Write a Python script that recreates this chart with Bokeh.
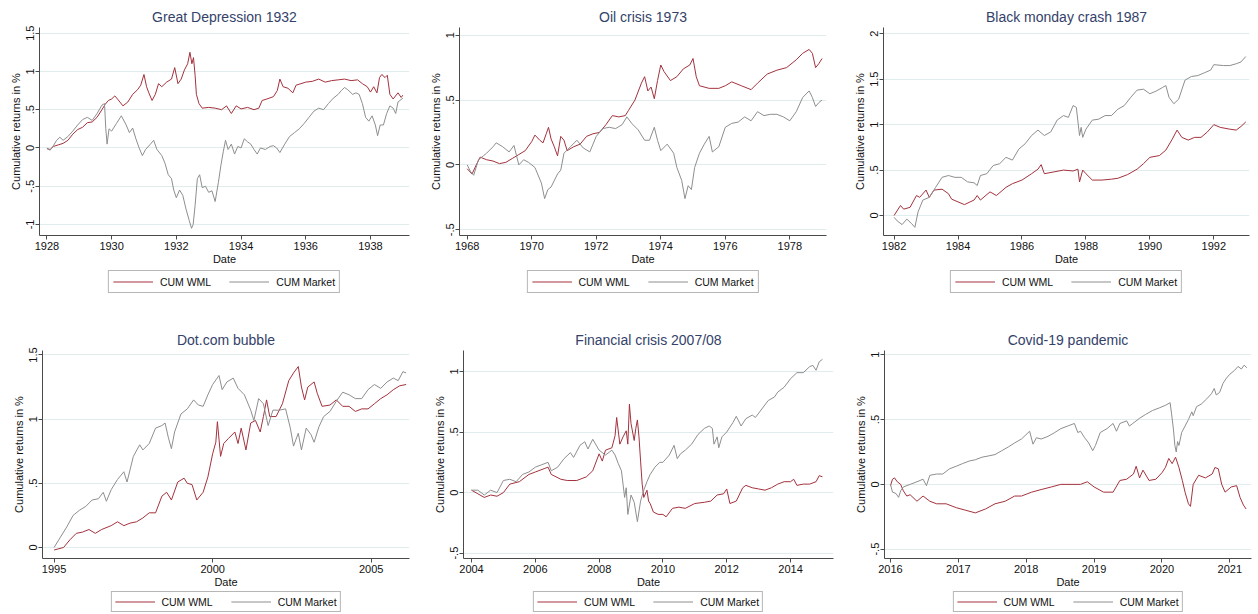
from bokeh.plotting import figure
from bokeh.layouts import column, row
from bokeh.models import Legend, LegendItem, FixedTicker, Range1d
from bokeh.embed import file_html
from bokeh.resources import INLINE

# ---------------------------------------------------------------------------
# Cumulative returns of the momentum factor (WML) and the market, per episode
# ---------------------------------------------------------------------------

# Great Depression 1932
gd_wml_date = [1928.00, 1928.10, 1928.20, 1928.35, 1928.50, 1928.65, 1928.80, 1928.95, 1929.10, 1929.25,
               1929.40, 1929.55, 1929.70, 1929.80, 1929.90, 1930.00, 1930.10, 1930.20, 1930.35, 1930.50,
               1930.65, 1930.80, 1930.90, 1931.00, 1931.08, 1931.15, 1931.25, 1931.35, 1931.45, 1931.55,
               1931.70, 1931.85, 1931.95, 1932.05, 1932.15, 1932.25, 1932.35, 1932.42, 1932.48, 1932.53,
               1932.58, 1932.62, 1932.70, 1932.80, 1933.00, 1933.20, 1933.40, 1933.55, 1933.70, 1933.85,
               1934.00, 1934.20, 1934.40, 1934.55, 1934.65, 1934.80, 1935.00, 1935.12, 1935.20, 1935.30,
               1935.45, 1935.60, 1935.70, 1935.85, 1936.00, 1936.20, 1936.40, 1936.60, 1936.80, 1937.00,
               1937.20, 1937.40, 1937.60, 1937.75, 1937.90, 1938.00, 1938.10, 1938.20, 1938.28, 1938.35,
               1938.45, 1938.52, 1938.60, 1938.70, 1938.85, 1938.95, 1939.00]
gd_wml = [-0.01, -0.02, 0.02, 0.04, 0.06, 0.10, 0.18, 0.24, 0.27, 0.33,
          0.34, 0.40, 0.50, 0.57, 0.62, 0.64, 0.68, 0.63, 0.55, 0.60,
          0.70, 0.76, 0.82, 0.96, 0.80, 0.72, 0.62, 0.70, 0.84, 0.80,
          0.86, 0.90, 1.05, 0.84, 0.90, 1.02, 1.10, 1.25, 1.10, 1.18,
          0.95, 0.70, 0.58, 0.52, 0.53, 0.52, 0.50, 0.55, 0.45, 0.55,
          0.51, 0.53, 0.50, 0.52, 0.62, 0.64, 0.67, 0.75, 0.90, 0.80,
          0.78, 0.72, 0.82, 0.84, 0.86, 0.87, 0.90, 0.86, 0.88, 0.89,
          0.90, 0.88, 0.89, 0.84, 0.80, 0.73, 0.80, 0.72, 0.92, 0.96,
          0.92, 0.95, 0.70, 0.64, 0.72, 0.66, 0.69]
gd_mkt_date = [1928.00, 1928.10, 1928.20, 1928.30, 1928.40, 1928.50, 1928.65, 1928.80, 1928.95, 1929.10,
               1929.25, 1929.40, 1929.55, 1929.70, 1929.78, 1929.82, 1929.86, 1929.92, 1930.00, 1930.15,
               1930.30, 1930.45, 1930.55, 1930.65, 1930.75, 1930.85, 1930.95, 1931.05, 1931.20, 1931.30,
               1931.40, 1931.55, 1931.65, 1931.75, 1931.85, 1931.92, 1932.00, 1932.10, 1932.20, 1932.30,
               1932.40, 1932.47, 1932.52, 1932.58, 1932.65, 1932.72, 1932.80, 1932.90, 1933.00, 1933.10,
               1933.20, 1933.30, 1933.38, 1933.45, 1933.52, 1933.60, 1933.70, 1933.80, 1933.90, 1934.00,
               1934.10, 1934.20, 1934.30, 1934.40, 1934.50, 1934.60, 1934.75, 1934.90, 1935.00, 1935.10,
               1935.20, 1935.35, 1935.50, 1935.65, 1935.80, 1935.95, 1936.10, 1936.25, 1936.40, 1936.55,
               1936.70, 1936.85, 1937.00, 1937.10, 1937.20, 1937.30, 1937.45, 1937.55, 1937.65, 1937.75,
               1937.85, 1937.95, 1938.05, 1938.15, 1938.22, 1938.30, 1938.40, 1938.50, 1938.60, 1938.70,
               1938.78, 1938.85, 1939.00]
gd_mkt = [0.00, -0.03, 0.03, 0.10, 0.14, 0.10, 0.15, 0.22, 0.30, 0.37,
          0.40, 0.36, 0.45, 0.56, 0.58, 0.25, 0.05, 0.25, 0.22, 0.32,
          0.42, 0.30, 0.20, 0.26, 0.12, 0.00, -0.10, -0.02, 0.05, 0.10,
          -0.02, -0.10, -0.20, -0.35, -0.40, -0.55, -0.65, -0.55, -0.62, -0.80,
          -0.95, -1.05, -1.00, -0.75, -0.40, -0.35, -0.52, -0.50, -0.58, -0.56,
          -0.70, -0.45, -0.22, -0.05, 0.10, -0.02, 0.05, -0.08, 0.02, 0.00,
          0.12, 0.08, 0.05, -0.02, -0.08, 0.00, -0.02, 0.02, 0.03, 0.00,
          -0.06, 0.05, 0.15, 0.20, 0.25, 0.32, 0.40, 0.48, 0.52, 0.50,
          0.58, 0.65, 0.70, 0.75, 0.79, 0.76, 0.70, 0.72, 0.70, 0.58,
          0.40, 0.35, 0.42, 0.30, 0.16, 0.30, 0.30, 0.45, 0.55, 0.52,
          0.45, 0.60, 0.65]

# Oil crisis 1973
oil_wml_date = [1968.00, 1968.15, 1968.30, 1968.40, 1968.60, 1968.80, 1969.00, 1969.20, 1969.40, 1969.60,
                1969.80, 1970.00, 1970.10, 1970.25, 1970.35, 1970.45, 1970.52, 1970.60, 1970.70, 1970.80,
                1970.90, 1971.00, 1971.10, 1971.30, 1971.50, 1971.70, 1971.90, 1972.10, 1972.30, 1972.50,
                1972.70, 1972.90, 1973.00, 1973.20, 1973.40, 1973.50, 1973.60, 1973.70, 1973.80, 1973.90,
                1974.00, 1974.10, 1974.30, 1974.50, 1974.70, 1974.90, 1975.00, 1975.10, 1975.20, 1975.50,
                1975.80, 1976.00, 1976.20, 1976.50, 1976.80, 1977.00, 1977.30, 1977.60, 1977.90, 1978.20,
                1978.40, 1978.60, 1978.70, 1978.80, 1978.90, 1979.00]
oil_wml = [-0.03, -0.07, 0.01, 0.06, 0.04, 0.03, 0.01, 0.02, 0.05, 0.08,
           0.11, 0.18, 0.23, 0.19, 0.17, 0.24, 0.29, 0.20, 0.14, 0.07,
           0.22, 0.19, 0.11, 0.14, 0.16, 0.22, 0.24, 0.25, 0.31, 0.38,
           0.37, 0.38, 0.42, 0.50, 0.63, 0.68, 0.57, 0.60, 0.51, 0.65,
           0.77, 0.72, 0.65, 0.68, 0.74, 0.77, 0.82, 0.68, 0.61, 0.59,
           0.59, 0.61, 0.64, 0.61, 0.58, 0.63, 0.70, 0.73, 0.75, 0.81,
           0.86, 0.89, 0.86, 0.75, 0.78, 0.82]
oil_mkt_date = [1968.00, 1968.10, 1968.20, 1968.35, 1968.50, 1968.60, 1968.80, 1968.90, 1969.10, 1969.30,
                1969.45, 1969.60, 1969.75, 1969.90, 1970.10, 1970.30, 1970.40, 1970.50, 1970.60, 1970.80,
                1970.90, 1971.00, 1971.20, 1971.40, 1971.60, 1971.80, 1971.90, 1972.00, 1972.20, 1972.40,
                1972.60, 1972.80, 1972.95, 1973.10, 1973.30, 1973.50, 1973.65, 1973.80, 1973.90, 1974.00,
                1974.20, 1974.40, 1974.50, 1974.65, 1974.75, 1974.85, 1974.95, 1975.05, 1975.20, 1975.35,
                1975.50, 1975.60, 1975.80, 1976.00, 1976.20, 1976.40, 1976.60, 1976.80, 1977.00, 1977.20,
                1977.40, 1977.60, 1977.80, 1978.00, 1978.20, 1978.40, 1978.60, 1978.70, 1978.80, 1978.90,
                1979.00]
oil_mkt = [0.00, -0.05, -0.08, 0.04, 0.07, 0.09, 0.14, 0.17, 0.14, 0.10,
           0.15, 0.00, 0.04, 0.02, -0.02, -0.14, -0.26, -0.19, -0.17, -0.07,
           -0.04, 0.09, 0.14, 0.19, 0.13, 0.10, 0.16, 0.22, 0.28, 0.29,
           0.28, 0.31, 0.37, 0.32, 0.27, 0.19, 0.19, 0.29, 0.19, 0.11,
           0.16, 0.09, -0.02, -0.12, -0.26, -0.16, -0.19, -0.02, 0.09, 0.16,
           0.22, 0.10, 0.14, 0.29, 0.32, 0.33, 0.37, 0.34, 0.41, 0.38,
           0.39, 0.39, 0.37, 0.34, 0.41, 0.52, 0.57, 0.52, 0.45, 0.48,
           0.50]

# Black monday crash 1987
bm_wml_date = [1982.00, 1982.20, 1982.30, 1982.50, 1982.70, 1982.80, 1983.00, 1983.10, 1983.25, 1983.50,
               1983.70, 1983.80, 1984.00, 1984.20, 1984.50, 1984.60, 1984.70, 1985.00, 1985.20, 1985.50,
               1985.70, 1986.00, 1986.30, 1986.50, 1986.60, 1986.70, 1987.00, 1987.30, 1987.60, 1987.75,
               1987.80, 1987.90, 1988.00, 1988.20, 1988.50, 1988.80, 1989.00, 1989.30, 1989.60, 1989.80,
               1990.00, 1990.30, 1990.50, 1990.70, 1990.85, 1991.00, 1991.20, 1991.40, 1991.60, 1991.80,
               1992.00, 1992.20, 1992.50, 1992.70, 1992.85, 1993.00]
bm_wml = [0.00, 0.11, 0.07, 0.09, 0.22, 0.20, 0.28, 0.20, 0.28, 0.29,
          0.24, 0.18, 0.15, 0.12, 0.17, 0.22, 0.17, 0.26, 0.22, 0.31,
          0.35, 0.39, 0.46, 0.51, 0.56, 0.46, 0.48, 0.50, 0.49, 0.51,
          0.37, 0.50, 0.46, 0.39, 0.39, 0.40, 0.41, 0.45, 0.51, 0.57,
          0.64, 0.66, 0.72, 0.84, 0.94, 0.86, 0.83, 0.86, 0.86, 0.92,
          1.00, 0.97, 0.95, 0.94, 0.98, 1.03]
bm_mkt_date = [1982.00, 1982.10, 1982.25, 1982.40, 1982.55, 1982.65, 1982.75, 1982.90, 1983.10, 1983.30,
               1983.50, 1983.70, 1983.90, 1984.10, 1984.30, 1984.50, 1984.60, 1984.70, 1984.90, 1985.10,
               1985.30, 1985.50, 1985.70, 1985.90, 1986.10, 1986.30, 1986.50, 1986.70, 1986.90, 1987.10,
               1987.30, 1987.45, 1987.60, 1987.70, 1987.80, 1987.85, 1987.90, 1988.00, 1988.20, 1988.40,
               1988.60, 1988.80, 1989.00, 1989.20, 1989.40, 1989.60, 1989.80, 1990.00, 1990.20, 1990.40,
               1990.50, 1990.60, 1990.75, 1990.90, 1991.10, 1991.30, 1991.50, 1991.70, 1991.90, 1992.00,
               1992.30, 1992.50, 1992.70, 1992.85, 1993.00]
bm_mkt = [-0.02, -0.06, -0.10, -0.04, -0.09, -0.13, 0.04, 0.17, 0.20, 0.31,
          0.42, 0.44, 0.42, 0.42, 0.37, 0.36, 0.33, 0.44, 0.46, 0.55,
          0.57, 0.64, 0.61, 0.73, 0.79, 0.88, 0.94, 0.88, 0.92, 1.05,
          1.10, 1.08, 1.21, 1.19, 0.88, 0.97, 0.86, 0.95, 1.05, 1.06,
          1.10, 1.10, 1.17, 1.21, 1.30, 1.38, 1.39, 1.34, 1.37, 1.41,
          1.43, 1.30, 1.23, 1.28, 1.49, 1.53, 1.54, 1.57, 1.60, 1.66,
          1.65, 1.65, 1.67, 1.69, 1.75]

# Dot.com bubble
dc_wml_date = [1995.00, 1995.30, 1995.50, 1995.70, 1995.90, 1996.10, 1996.30, 1996.50, 1996.80, 1997.00,
               1997.20, 1997.40, 1997.60, 1997.80, 1998.00, 1998.20, 1998.40, 1998.55, 1998.70, 1998.90,
               1999.10, 1999.20, 1999.35, 1999.50, 1999.70, 1999.85, 2000.00, 2000.10, 2000.15, 2000.25,
               2000.35, 2000.50, 2000.70, 2000.80, 2000.90, 2001.05, 2001.20, 2001.35, 2001.50, 2001.60,
               2001.70, 2001.80, 2002.00, 2002.20, 2002.40, 2002.55, 2002.70, 2002.80, 2002.90, 2003.00,
               2003.20, 2003.30, 2003.45, 2003.70, 2003.90, 2004.10, 2004.30, 2004.50, 2004.70, 2004.90,
               2005.10, 2005.30, 2005.50, 2005.70, 2005.90, 2006.10]
dc_wml = [-0.02, 0.00, 0.06, 0.11, 0.12, 0.14, 0.11, 0.14, 0.17, 0.20,
          0.17, 0.19, 0.20, 0.23, 0.27, 0.27, 0.40, 0.43, 0.37, 0.51,
          0.54, 0.50, 0.49, 0.37, 0.43, 0.55, 0.73, 0.82, 0.98, 0.71,
          0.81, 0.85, 0.90, 0.81, 0.93, 0.76, 0.97, 0.99, 0.90, 1.02,
          1.15, 1.02, 1.02, 1.12, 1.30, 1.36, 1.41, 1.25, 1.15, 1.25,
          1.29, 1.20, 1.10, 1.11, 1.15, 1.10, 1.10, 1.06, 1.08, 1.08,
          1.12, 1.16, 1.19, 1.23, 1.26, 1.27]
dc_mkt_date = [1995.00, 1995.20, 1995.40, 1995.60, 1995.80, 1996.00, 1996.20, 1996.40, 1996.55, 1996.65,
               1996.80, 1997.00, 1997.20, 1997.30, 1997.50, 1997.70, 1997.80, 1998.00, 1998.20, 1998.40,
               1998.50, 1998.60, 1998.70, 1998.80, 1999.00, 1999.20, 1999.40, 1999.55, 1999.70, 1999.85,
               2000.00, 2000.20, 2000.30, 2000.45, 2000.65, 2000.80, 2001.00, 2001.20, 2001.30, 2001.45,
               2001.60, 2001.75, 2001.90, 2002.10, 2002.30, 2002.45, 2002.55, 2002.70, 2002.80, 2002.95,
               2003.10, 2003.20, 2003.35, 2003.50, 2003.70, 2003.90, 2004.10, 2004.30, 2004.50, 2004.70,
               2004.90, 2005.10, 2005.30, 2005.50, 2005.70, 2005.85, 2006.00, 2006.10]
dc_mkt = [0.00, 0.08, 0.16, 0.25, 0.29, 0.32, 0.37, 0.38, 0.43, 0.36,
          0.45, 0.53, 0.59, 0.51, 0.71, 0.80, 0.76, 0.81, 0.93, 0.95,
          0.97, 0.86, 0.77, 0.90, 1.04, 1.08, 1.15, 1.11, 1.10, 1.19,
          1.27, 1.34, 1.23, 1.29, 1.32, 1.24, 1.19, 1.07, 0.99, 1.16,
          1.12, 0.95, 1.07, 1.07, 1.08, 0.93, 0.79, 0.89, 0.76, 0.93,
          0.88, 0.82, 0.94, 1.02, 1.06, 1.14, 1.21, 1.19, 1.16, 1.16,
          1.23, 1.27, 1.24, 1.29, 1.32, 1.30, 1.37, 1.36]

# Financial crisis 2007/08
fc_wml_date = [2004.00, 2004.20, 2004.40, 2004.60, 2004.80, 2005.00, 2005.20, 2005.50, 2005.80, 2006.00,
               2006.30, 2006.40, 2006.50, 2006.80, 2007.00, 2007.30, 2007.60, 2007.80, 2008.00, 2008.10,
               2008.20, 2008.40, 2008.50, 2008.55, 2008.65, 2008.75, 2008.85, 2008.90, 2008.95, 2009.00,
               2009.10, 2009.15, 2009.20, 2009.25, 2009.30, 2009.35, 2009.40, 2009.50, 2009.55, 2009.60,
               2009.70, 2009.85, 2010.00, 2010.10, 2010.30, 2010.50, 2010.70, 2011.00, 2011.30, 2011.50,
               2011.70, 2011.90, 2012.00, 2012.10, 2012.30, 2012.50, 2012.60, 2012.80, 2013.00, 2013.20,
               2013.40, 2013.60, 2013.80, 2014.00, 2014.10, 2014.20, 2014.40, 2014.60, 2014.80, 2014.90,
               2015.00]
fc_wml = [0.02, -0.01, -0.04, -0.02, -0.03, 0.00, 0.07, 0.09, 0.15, 0.17,
          0.20, 0.21, 0.15, 0.11, 0.10, 0.10, 0.13, 0.18, 0.32, 0.26,
          0.35, 0.37, 0.47, 0.62, 0.40, 0.46, 0.51, 0.40, 0.73, 0.57,
          0.43, 0.53, 0.60, 0.46, 0.26, 0.07, -0.04, 0.02, -0.07, -0.09,
          -0.16, -0.18, -0.18, -0.20, -0.13, -0.12, -0.13, -0.09, -0.08, -0.07,
          -0.02, -0.01, 0.03, -0.09, -0.07, 0.04, 0.06, 0.04, 0.03, 0.02,
          0.04, 0.07, 0.09, 0.09, 0.11, 0.06, 0.07, 0.07, 0.09, 0.14,
          0.13]
fc_mkt_date = [2004.00, 2004.20, 2004.40, 2004.60, 2004.80, 2005.00, 2005.20, 2005.40, 2005.60, 2005.80,
               2006.00, 2006.20, 2006.40, 2006.50, 2006.70, 2006.90, 2007.10, 2007.20, 2007.40, 2007.55,
               2007.65, 2007.80, 2008.00, 2008.20, 2008.40, 2008.50, 2008.60, 2008.70, 2008.75, 2008.80,
               2008.85, 2008.90, 2009.00, 2009.10, 2009.20, 2009.30, 2009.40, 2009.50, 2009.60, 2009.75,
               2009.90, 2010.00, 2010.20, 2010.35, 2010.45, 2010.55, 2010.70, 2010.90, 2011.10, 2011.30,
               2011.45, 2011.55, 2011.60, 2011.70, 2011.75, 2011.85, 2012.00, 2012.20, 2012.30, 2012.45,
               2012.60, 2012.80, 2012.90, 2013.10, 2013.30, 2013.50, 2013.60, 2013.80, 2014.00, 2014.20,
               2014.40, 2014.60, 2014.70, 2014.80, 2014.90, 2015.00]
fc_mkt = [0.02, 0.02, -0.02, 0.02, 0.00, 0.10, 0.11, 0.09, 0.15, 0.17,
          0.21, 0.23, 0.25, 0.18, 0.21, 0.28, 0.33, 0.29, 0.39, 0.42,
          0.36, 0.44, 0.35, 0.31, 0.35, 0.31, 0.24, 0.18, 0.07, -0.04,
          0.04, -0.18, -0.02, -0.08, -0.24, -0.07, 0.02, 0.09, 0.15, 0.21,
          0.25, 0.25, 0.31, 0.39, 0.28, 0.32, 0.35, 0.40, 0.48, 0.53,
          0.55, 0.53, 0.40, 0.46, 0.37, 0.46, 0.50, 0.58, 0.63, 0.55,
          0.61, 0.64, 0.62, 0.69, 0.76, 0.79, 0.83, 0.87, 0.94, 0.99,
          0.99, 1.04, 1.05, 1.01, 1.08, 1.10]

# Covid-19 pandemic
cv_wml_date = [2016.00, 2016.03, 2016.06, 2016.10, 2016.15, 2016.19, 2016.24, 2016.29, 2016.39, 2016.48,
               2016.58, 2016.68, 2016.82, 2016.97, 2017.11, 2017.25, 2017.40, 2017.54, 2017.69, 2017.83,
               2017.93, 2018.08, 2018.22, 2018.37, 2018.51, 2018.66, 2018.80, 2018.90, 2019.00, 2019.14,
               2019.28, 2019.38, 2019.48, 2019.58, 2019.62, 2019.67, 2019.72, 2019.81, 2019.91, 2020.00,
               2020.05, 2020.10, 2020.15, 2020.20, 2020.25, 2020.30, 2020.34, 2020.39, 2020.42, 2020.46,
               2020.54, 2020.64, 2020.74, 2020.78, 2020.83, 2020.88, 2020.93, 2021.02, 2021.10, 2021.15,
               2021.20, 2021.24]
cv_wml = [-0.01, 0.04, 0.05, 0.02, 0.00, -0.05, -0.09, -0.08, -0.13, -0.09,
          -0.13, -0.15, -0.15, -0.18, -0.20, -0.22, -0.19, -0.15, -0.13, -0.09,
          -0.09, -0.06, -0.04, -0.02, 0.00, 0.00, 0.00, 0.02, -0.02, -0.06,
          -0.06, 0.03, 0.04, 0.08, 0.14, 0.05, 0.11, 0.03, 0.04, 0.09,
          0.13, 0.20, 0.16, 0.21, 0.13, 0.03, -0.06, -0.15, -0.17, 0.00,
          0.07, 0.05, 0.08, 0.13, 0.12, 0.00, -0.06, -0.02, -0.01, -0.10,
          -0.16, -0.19]
cv_mkt_date = [2016.00, 2016.03, 2016.08, 2016.12, 2016.15, 2016.19, 2016.29, 2016.39, 2016.48, 2016.53,
               2016.58, 2016.68, 2016.77, 2016.87, 2016.97, 2017.06, 2017.16, 2017.25, 2017.35, 2017.45,
               2017.54, 2017.64, 2017.74, 2017.83, 2017.93, 2018.05, 2018.10, 2018.15, 2018.22, 2018.32,
               2018.42, 2018.51, 2018.61, 2018.71, 2018.76, 2018.80, 2018.86, 2018.92, 2018.98, 2019.02,
               2019.09, 2019.19, 2019.28, 2019.33, 2019.38, 2019.48, 2019.52, 2019.57, 2019.67, 2019.76,
               2019.86, 2019.96, 2020.05, 2020.12, 2020.14, 2020.17, 2020.19, 2020.21, 2020.23, 2020.25,
               2020.29, 2020.34, 2020.39, 2020.44, 2020.46, 2020.51, 2020.58, 2020.66, 2020.73, 2020.77,
               2020.80, 2020.85, 2020.90, 2020.95, 2021.00, 2021.07, 2021.12, 2021.17, 2021.21, 2021.25]
cv_mkt = [0.00, -0.06, -0.07, -0.10, -0.05, -0.02, 0.00, 0.02, 0.04, -0.01,
          0.07, 0.08, 0.08, 0.12, 0.14, 0.16, 0.18, 0.19, 0.21, 0.22,
          0.23, 0.26, 0.29, 0.32, 0.35, 0.41, 0.31, 0.36, 0.35, 0.37,
          0.40, 0.43, 0.45, 0.47, 0.40, 0.41, 0.36, 0.32, 0.26, 0.30,
          0.40, 0.43, 0.47, 0.41, 0.47, 0.49, 0.45, 0.47, 0.51, 0.54,
          0.57, 0.59, 0.61, 0.63, 0.55, 0.42, 0.30, 0.25, 0.33, 0.30,
          0.40, 0.45, 0.50, 0.56, 0.53, 0.60, 0.62, 0.66, 0.70, 0.74,
          0.69, 0.71, 0.78, 0.82, 0.85, 0.88, 0.91, 0.89, 0.92, 0.90]

# Axis ticks per episode
gd_xticks = [1928, 1930, 1932, 1934, 1936, 1938]
gd_yticks = [-1, -0.5, 0, 0.5, 1, 1.5]
oil_xticks = [1968, 1970, 1972, 1974, 1976, 1978]
oil_yticks = [-0.5, 0, 0.5, 1]
bm_xticks = [1982, 1984, 1986, 1988, 1990, 1992]
bm_yticks = [0, 0.5, 1, 1.5, 2]
dc_xticks = [1995, 2000, 2005]
dc_yticks = [0, 0.5, 1, 1.5]
fc_xticks = [2004, 2006, 2008, 2010, 2012, 2014]
fc_yticks = [-0.5, 0, 0.5, 1]
cv_xticks = [2016, 2017, 2018, 2019, 2020, 2021]
cv_yticks = [-0.5, 0, 0.5, 1]

WML_COLOR = "#a3323d"
MKT_COLOR = "#8e8e8e"
TITLE_COLOR = "#34426a"
TEXT_COLOR = "#111111"
AXIS_COLOR = "#4a4a4a"
GRID_COLOR = "#e1eded"
FONT = "Liberation Sans"

FRAME_TOP = 27
FRAME_BOTTOM = 235
CHART_HEIGHT = 267


def stata_label(v):
    s = f"{v:g}"
    if s.startswith("0."):
        s = s[1:]
    elif s.startswith("-0."):
        s = "-" + s[2:]
    return s


def panel(title, wml_x, wml_y, mkt_x, mkt_y, x_range, y_range, x_ticks, y_ticks,
          width, legend_height, legend_margin, legend_padding, left, right):
    p = figure(width=width, height=CHART_HEIGHT, output_backend="svg", toolbar_location=None,
               x_range=Range1d(*x_range), y_range=Range1d(*y_range),
               min_border_left=left, min_border_right=width - right,
               min_border_top=FRAME_TOP, min_border_bottom=CHART_HEIGHT - FRAME_BOTTOM)
    p.background_fill_color = "white"
    p.border_fill_color = "white"
    p.outline_line_color = None

    p.title.text = title
    p.title.align = "center"
    p.title.text_font = FONT
    p.title.text_font_size = "14px"
    p.title.text_font_style = "normal"
    p.title.text_color = TITLE_COLOR
    p.title.standoff = 5

    p.line(wml_x, wml_y, line_color=WML_COLOR, line_width=1)
    p.line(mkt_x, mkt_y, line_color=MKT_COLOR, line_width=1)

    p.xgrid.grid_line_color = None
    p.ygrid.grid_line_color = GRID_COLOR
    p.ygrid.grid_line_width = 1

    xa = p.xaxis[0]
    xa.ticker = FixedTicker(ticks=x_ticks)
    xa.major_label_overrides = {t: str(t) for t in x_ticks}
    xa.axis_label = "Date"
    ya = p.yaxis[0]
    ya.ticker = FixedTicker(ticks=y_ticks)
    ya.major_label_overrides = {t: stata_label(t) for t in y_ticks}
    ya.major_label_orientation = "vertical"
    ya.axis_label = "Cumulative returns in %"
    p.ygrid.ticker = FixedTicker(ticks=y_ticks)

    for ax in (xa, ya):
        ax.axis_line_color = AXIS_COLOR
        ax.major_tick_line_color = AXIS_COLOR
        ax.minor_tick_line_color = None
        ax.major_tick_in = 0
        ax.major_tick_out = 4
        ax.major_label_text_font = FONT
        ax.major_label_text_font_size = "11px"
        ax.major_label_text_color = TEXT_COLOR
        ax.axis_label_text_font = FONT
        ax.axis_label_text_font_style = "normal"
        ax.axis_label_text_color = TEXT_COLOR
    xa.major_label_standoff = 2
    xa.axis_label_standoff = 0
    xa.axis_label_text_font_size = "11px"
    ya.major_label_standoff = 1
    ya.axis_label_standoff = 2
    ya.axis_label_text_font_size = "11px"

    # legend strip beneath the chart, centred under the plotting area;
    # its key lines carry the series but lie outside the strip's visible range
    lg = figure(width=width, height=legend_height, output_backend="svg", toolbar_location=None,
                x_range=Range1d(-2, -1), y_range=Range1d(-2, -1),
                x_axis_location=None, y_axis_location=None,
                min_border_left=left, min_border_right=width - right,
                min_border_top=0, min_border_bottom=0)
    lg.grid.visible = False
    lg.outline_line_color = None
    lg.background_fill_color = "white"
    lg.border_fill_color = "white"
    key_wml = lg.line(wml_x, wml_y, line_color=WML_COLOR, line_width=1)
    key_mkt = lg.line(mkt_x, mkt_y, line_color=MKT_COLOR, line_width=1)
    legend = Legend(items=[LegendItem(label="CUM WML", renderers=[key_wml]),
                           LegendItem(label="CUM Market", renderers=[key_mkt])],
                    orientation="horizontal", location="top_center")
    legend.label_text_font = FONT
    legend.label_text_font_size = "10.5px"
    legend.label_text_color = TEXT_COLOR
    legend.glyph_width = 40
    legend.glyph_height = 13
    legend.label_height = 13
    legend.label_standoff = 7
    legend.spacing = 18
    legend.padding = legend_padding
    legend.margin = legend_margin
    legend.border_line_color = "#6e6e6e"
    legend.border_line_width = 1
    legend.background_fill_color = "white"
    legend.background_fill_alpha = 1
    lg.add_layout(legend)
    return column(p, lg)


c1 = panel("Great Depression 1932", gd_wml_date, gd_wml, gd_mkt_date, gd_mkt,
           (1927.771, 1939.206), (-1.144, 1.574), gd_xticks, gd_yticks, 420, 56, 3, 4, 39, 409)
c2 = panel("Oil crisis 1973", oil_wml_date, oil_wml, oil_mkt_date, oil_mkt,
           (1967.761, 1979.138), (-0.544, 1.059), oil_xticks, oil_yticks, 420, 56, 3, 4, 39, 406)
c3 = panel("Black monday crash 1987", bm_wml_date, bm_wml, bm_mkt_date, bm_mkt,
           (1981.669, 1993.116), (-0.220, 2.069), bm_xticks, bm_yticks, 418, 56, 3, 4, 43, 409)
c4 = panel("Dot.com bubble", dc_wml_date, dc_wml, dc_mkt_date, dc_mkt,
           (1994.635, 2006.207), (-0.086, 1.535), dc_xticks, dc_yticks, 420, 24, 1, 3, 42, 409)
c5 = panel("Financial crisis 2007/08", fc_wml_date, fc_wml, fc_mkt_date, fc_mkt,
           (2003.749, 2015.347), (-0.544, 1.173), fc_xticks, fc_yticks, 420, 24, 1, 3, 43, 413)
c6 = panel("Covid-19 pandemic", cv_wml_date, cv_wml, cv_mkt_date, cv_mkt,
           (2015.912, 2021.319), (-0.572, 1.033), cv_xticks, cv_yticks, 418, 24, 1, 3, 44, 411)

layout = column(row(c1, c2, c3), row(c4, c5, c6))

open("out.html", "w").write(file_html(layout, INLINE))
